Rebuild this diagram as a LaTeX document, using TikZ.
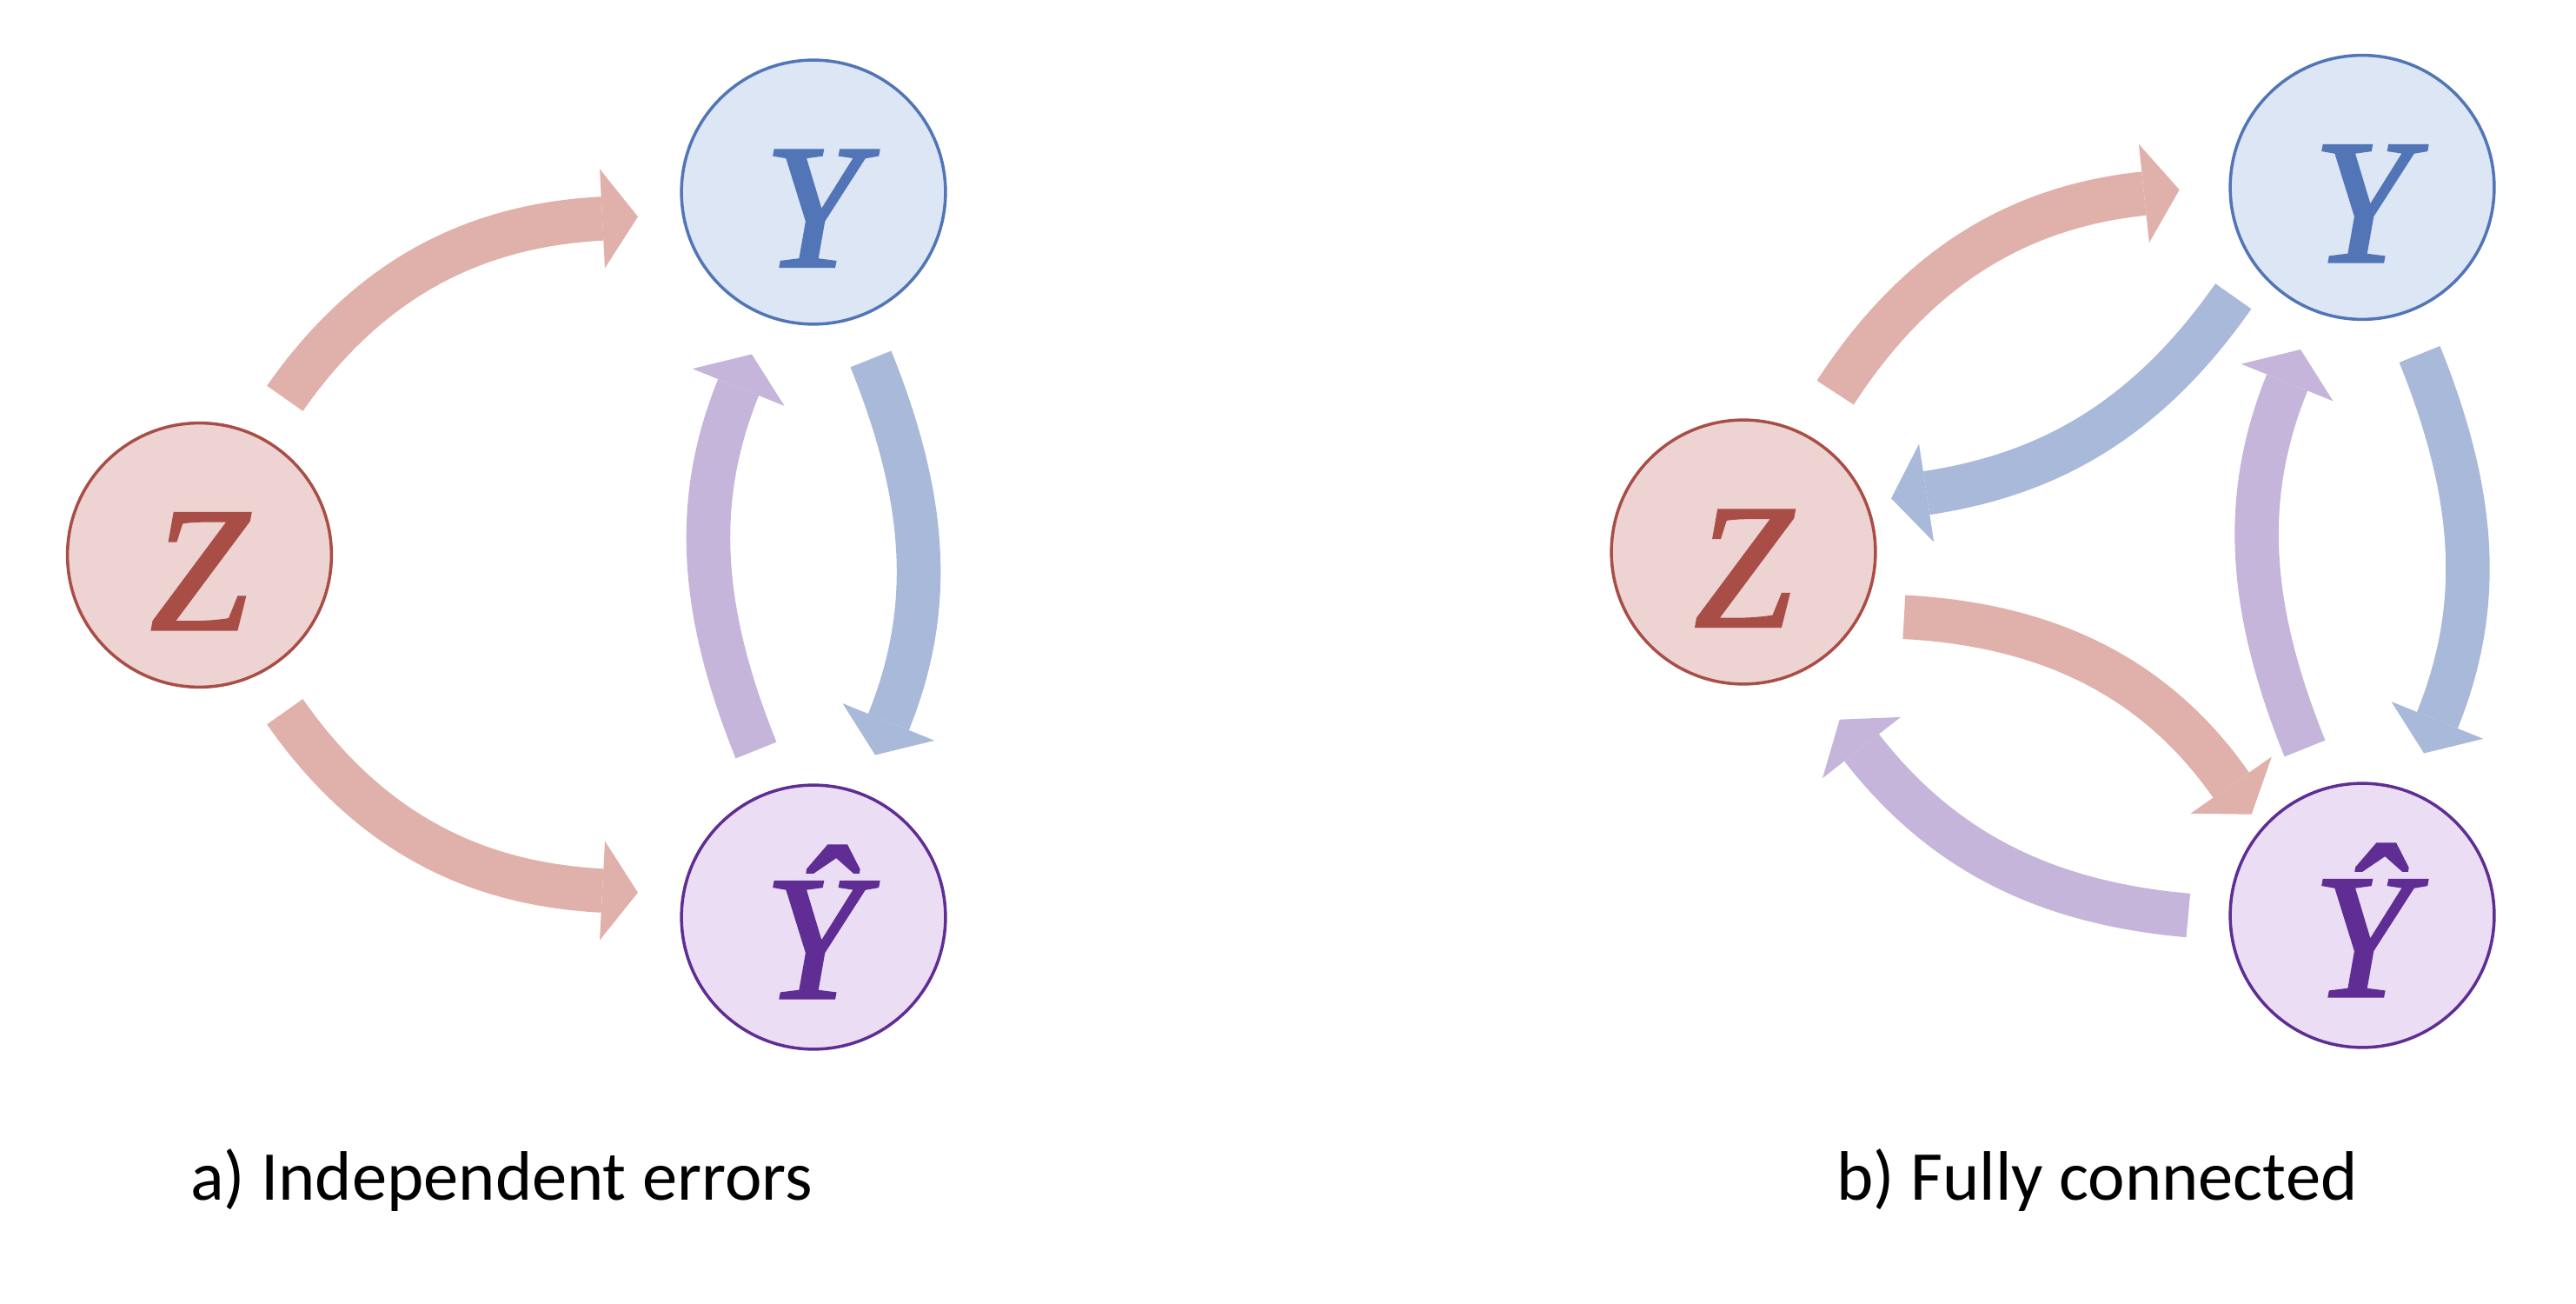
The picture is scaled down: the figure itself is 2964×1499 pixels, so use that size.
\documentclass[tikz,border=0pt]{standalone}
\usepackage{fontspec}
\newfontfamily\labelfont{Carlito}
\newfontfamily\varfont[FakeBold=1.5]{Liberation Serif Italic}
\usetikzlibrary{arrows.meta,calc}
\definecolor{zfill}{HTML}{EDD3D2}
\definecolor{zline}{HTML}{A94E47}
\definecolor{yfill}{HTML}{DCE6F4}
\definecolor{yline}{HTML}{5175B6}
\definecolor{hfill}{HTML}{EBDEF4}
\definecolor{hline}{HTML}{5F2D93}
\definecolor{redarr}{HTML}{E0B1AB}
\definecolor{bluearr}{HTML}{A9B9DA}
\definecolor{purparr}{HTML}{C5B5DA}
\begin{document}
\begin{tikzpicture}[x=0.01cm,y=0.01cm,
  var/.style={circle, minimum size=3.036cm, inner sep=0pt, outer sep=0pt,
    line width=0.035cm, text height=1.71cm, text depth=0pt,
    font=\varfont\fontsize{58}{60}\selectfont},
  zvar/.style={var, draw=zline, fill=zfill, text=zline},
  yvar/.style={var, draw=yline, fill=yfill, text=yline},
  hvar/.style={var, draw=hline, fill=hfill, text=hline, text height=1.86cm},
  fat/.style={line width=0.505cm,
    -{Triangle[length=0.41cm,width=1.14cm,line width=0pt]}},
  redfat/.style={fat, draw=redarr},
  bluefat/.style={fat, draw=bluearr},
  purpfat/.style={fat, draw=purparr},
  lbl/.style={anchor=base, font=\labelfont\fontsize{22.9}{27}\selectfont, text=black}
]
\useasboundingbox (0,0) rectangle (2964,1499);

% ---------- panel a ----------
\node[zvar] (ZL) at (229.5,860.5) {Z};
\node[yvar] (YL) at (936,1278) {Y};
\node[hvar] (HL) at (936,444) {Ŷ};

\draw[redfat] ($(ZL)+(98.3,180.2)$) to[out=55,in=183] ($(YL)+(-202,-28.3)$);
\draw[redfat] ($(ZL)+(98.3,-180.2)$) to[out=-55,in=177] ($(HL)+(-202,28.3)$);
\draw[purpfat] ($(HL)+(-66,192)$) to[out=112,in=248] ($(YL)+(-71,-186.5)$);
\draw[bluefat] ($(YL)+(66,-192)$) to[out=292,in=68] ($(HL)+(71,186.5)$);

\node[lbl] (la) at (577,119) {a) Independent errors};

% ---------- panel b ----------
\node[zvar] (ZR) at (2006,864) {Z};
\node[yvar] (YR) at (2718,1283.5) {Y};
\node[hvar] (HR) at (2718,446) {Ŷ};

\draw[redfat] ($(ZR)+(105.7,183.3)$) to[out=57,in=186] ($(YR)+(-210.3,-2.8)$);
\draw[bluefat] ($(YR)+(-148.3,-125.3)$) to[out=235,in=8.6] ($(ZR)+(170,61.7)$);
\draw[redfat] ($(ZR)+(184.8,-74.8)$) to[out=-3,in=125] ($(HR)+(-127.3,116.3)$);
\draw[purpfat] ($(HR)+(-200.2,0)$) to[out=175,in=308] ($(ZR)+(110.7,-192.7)$);
\draw[purpfat] ($(HR)+(-66,192)$) to[out=112,in=248] ($(YR)+(-71,-186.5)$);
\draw[bluefat] ($(YR)+(66,-192)$) to[out=292,in=68] ($(HR)+(71,186.5)$);

\node[lbl] (lb) at (2413,119) {b) Fully connected};
\end{tikzpicture}
\end{document}
